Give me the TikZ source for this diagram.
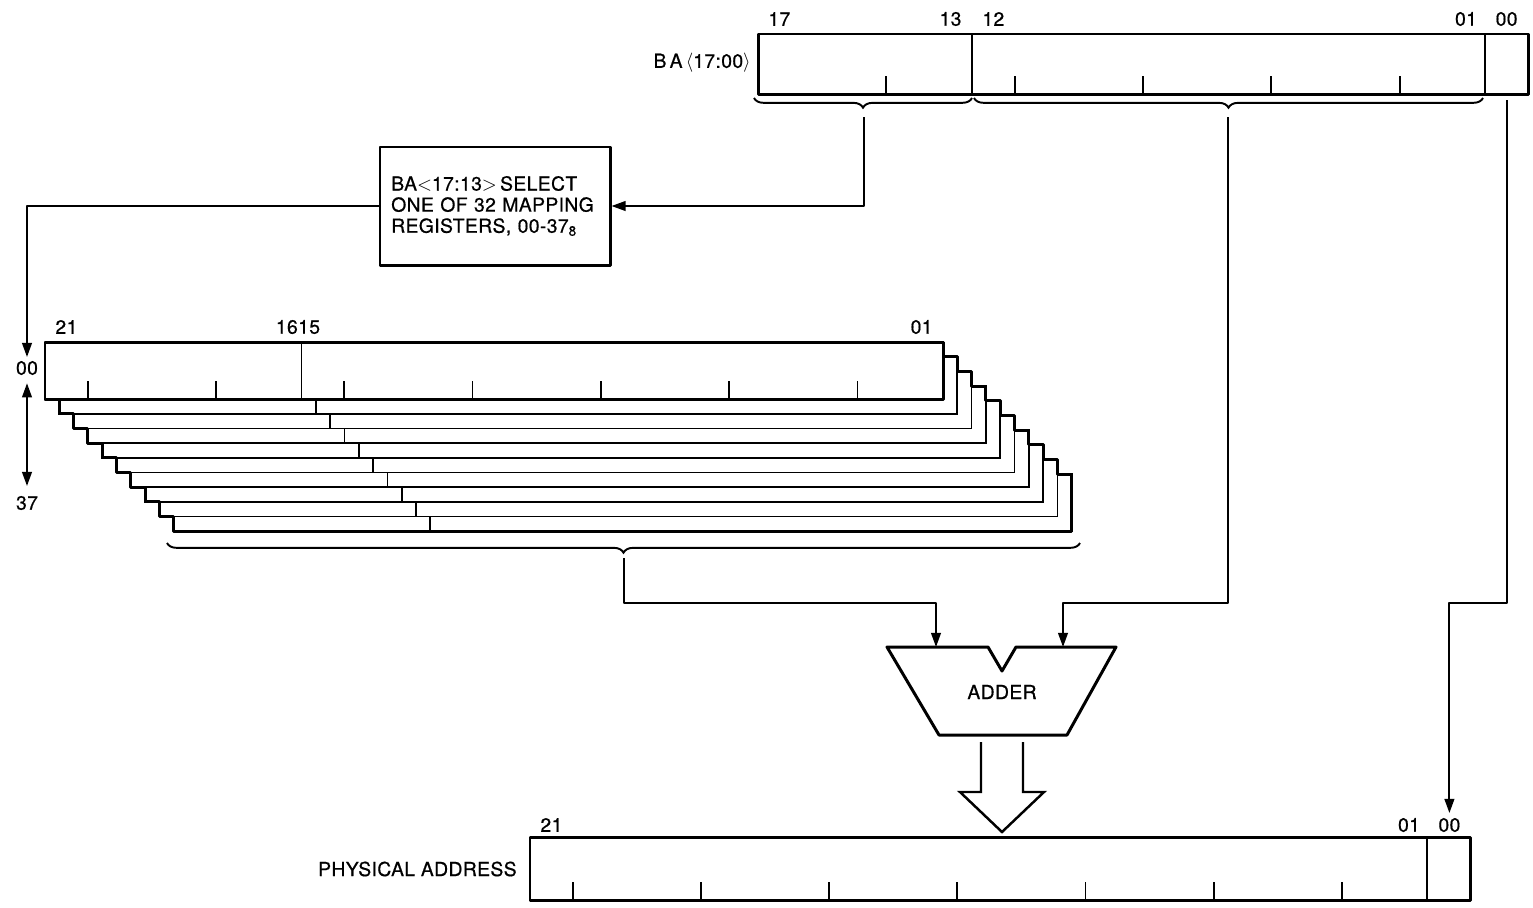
\documentclass[tikz,border=0pt]{standalone}
\usepackage{fontspec}
\setmainfont{TeX Gyre Heros}[LetterSpace=2, FakeBold=0.6]
\usetikzlibrary{calc,arrows.meta,decorations.pathreplacing}

\tikzset{
  regbox/.style={line width=1.7pt, line join=round},
  regline/.style={line width=1pt},
  wire/.style={line width=1.1pt, line join=round},
  tipped/.style={-{Triangle[length=8pt,width=5.5pt]}},
  twotip/.style={{Triangle[length=8pt,width=5.5pt]}-{Triangle[length=8pt,width=5.5pt]}},
  lbl/.style={inner sep=0pt, font=\fontsize{11}{12}\selectfont},
  brc/.style={decorate, decoration={brace, mirror, amplitude=5.5pt}, line width=1.1pt},
}

\begin{document}
\begin{tikzpicture}[x=0.2mm, y=-0.2mm]
    \fill[white] (0,0) rectangle (1533,907);
    \useasboundingbox (0,0) rectangle (1533,907);

    % BA register
    \draw[regbox] (758,34) rectangle (1528,94);
    \draw[regline] (971.9,34) -- (971.9,94) (1485.2,34) -- (1485.2,94);
    \foreach \i in {3,6,9,12,15}
        \draw[regline] ({758+\i*42.78},94) -- ++(0,-18);
    \node[lbl, anchor=east] (ba) at (751,63) {B\,A\,$\langle$17:00$\rangle$};
    \node[lbl] (ba17) at (779.4,19) {17};
    \node[lbl] (ba13) at (950.5,19) {13};
    \node[lbl] (ba12) at (993.3,19) {12};
    \node[lbl] (ba01) at (1466,19) {01};
    \node[lbl] (ba00l) at (1506.6,19) {00};
    \draw[brc] (754,98) -- (972,98);
    \draw[brc] (974,98) -- (1483,98);

    % select box
    \node[draw, regbox, minimum width=46mm, minimum height=23.6mm, text width=41.5mm,
          align=left, inner sep=0pt, font=\fontsize{11}{12}\selectfont] (sel) at (495,206)
          {BA$<$17:13$>$\,SELECT\\ONE OF 32 MAPPING\\REGISTERS, 00-37\textsubscript{8}};

    % mapping registers
    \foreach \k in {9,...,1} {
        \begin{scope}[shift={(\k*14.3,\k*14.7)}]
            \filldraw[fill=white, regline] (45,342) rectangle (943,399);
            \draw[regline] (301.6,342) -- (301.6,399);
        \end{scope}
    }
    \filldraw[fill=white, regbox] (45,342) rectangle (943,399);
    \draw[regline] (301.6,342) -- (301.6,399);
    \foreach \i in {1,4,7,10,13,16,19}
        \draw[regline] ({45+\i*42.76},399) -- ++(0,-18);
    \draw[regbox] (45,342) -- ++(898,0)
        \foreach \k in {1,...,9} { -- ++(0,14.7) -- ++(14.3,0) }
        -- ++(0,57) -- ++(-898,0)
        \foreach \k in {1,...,9} { -- ++(0,-14.7) -- ++(-14.3,0) } -- cycle;
    \node[lbl] (m21) at (66.4,327) {21};
    \node[lbl] (m1615) at (298,327) {1615};
    \node[lbl] (m01) at (921.6,327) {01};
    \node[lbl] (r00) at (27,368) {00};
    \node[lbl] (r37) at (27,503) {37};
    \draw[wire, twotip, shorten <=4.5pt, shorten >=5.5pt] (r00.south) -- (r37.north);
    \draw[brc] (167,543) -- (1080,543);

    % adder
    \draw[regbox] (887,647) -- (988,647) -- (1002,671) -- (1016,647) -- (1116,647)
        -- (1067,735) -- (939,735) -- cycle;
    \node[lbl] (adder) at (1002,692) {ADDER};
    \draw[line width=1.4pt] (981,742) -- (981,792) -- (960,792) -- (1002,832)
        -- (1044,792) -- (1023,792) -- (1023,742);

    % physical address
    \draw[regbox] (530,837) rectangle (1470,900);
    \draw[regline] (1427.3,837) -- (1427.3,900);
    \foreach \i in {1,4,7,10,13,16,19}
        \draw[regline] ({530+\i*42.727},900) -- ++(0,-18);
    \node[lbl, anchor=east] (pa) at (517,869) {PHYSICAL ADDRESS};
    \node[lbl] (pa21) at (551.4,825) {21};
    \node[lbl] (pa01) at (1409,825) {01};
    \node[lbl] (pa00l) at (1449.4,825) {00};

    % connections
    \coordinate (baHi) at (864,117);
    \coordinate (baLo) at (1228,117);
    \coordinate (ba00) at (1506.6,100);
    \coordinate (regIn) at (27,357);
    \coordinate (stk) at (624,558);
    \coordinate (addL) at (936,647);
    \coordinate (addR) at (1063,647);
    \coordinate (pa00) at (1449.4,813);
    \coordinate (bus) at (0,603);
    \draw[wire, tipped] (baHi) |- (sel.east);
    \draw[wire, tipped] (sel.west) -| (regIn);
    \draw[wire, tipped] (stk) -- (stk |- bus) -| (addL);
    \draw[wire, tipped] (baLo) -- (baLo |- bus) -| (addR);
    \draw[wire, tipped] (ba00) -- (ba00 |- bus) -| (pa00);
\end{tikzpicture}
\end{document}
